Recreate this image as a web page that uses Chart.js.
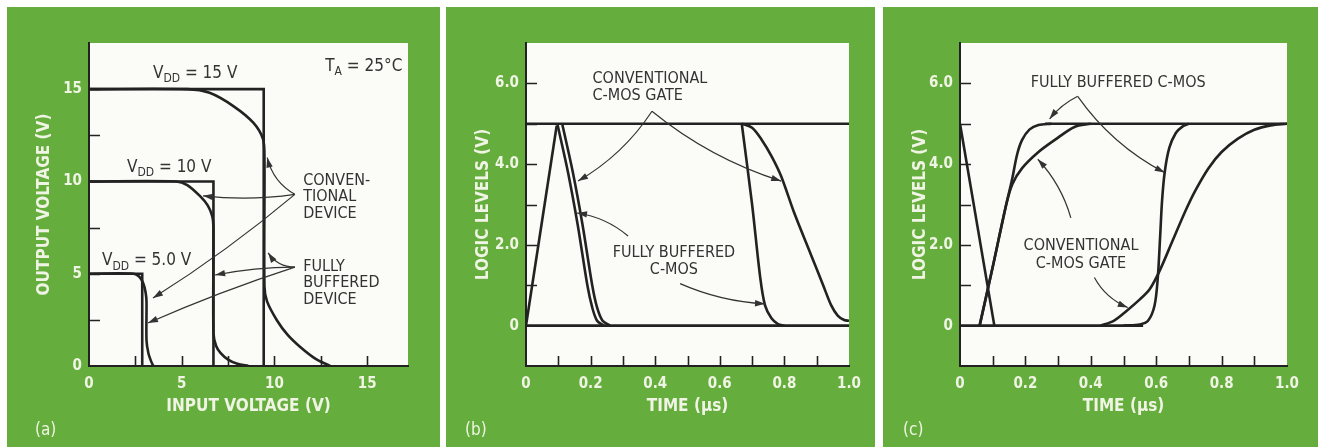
<!DOCTYPE html>
<html>
<head>
<meta charset="utf-8">
<script src="https://cdn.jsdelivr.net/npm/chart.js@4.4.1/dist/chart.umd.min.js"></script>
<style>
  body { margin: 0; background: #fff; width: 1318px; height: 447px; overflow: hidden; position: relative; }
  .panel { position: absolute; top: 7px; height: 440px; background: #65ae3d; }
  .panel canvas { position: absolute; left: 0; top: 0; }
  .tag { position: absolute; top: 412px; color: #f0f4e4; font: 17px "Liberation Sans Narrow", "DejaVu Sans Condensed", "Liberation Sans", sans-serif; }
</style>
</head>
<body>
<div class="panel" style="left:7px;width:433px"><canvas id="chartA" width="433" height="440"></canvas><span class="tag" style="left:28px">(a)</span></div>
<div class="panel" style="left:446px;width:429px"><canvas id="chartB" width="429" height="440"></canvas><span class="tag" style="left:19px">(b)</span></div>
<div class="panel" style="left:883px;width:435px"><canvas id="chartC" width="435" height="440"></canvas><span class="tag" style="left:20px">(c)</span></div>
<script>
const FONT = '"Liberation Sans Narrow", "DejaVu Sans Condensed", "Liberation Sans", sans-serif';
const INK = '#222';
const PALE = '#f0f4e4';

// (a) output vs input voltage, [input V, output V]
const a15Buffered = [[0, 15], [9.42, 15], [9.42, 0]];
const a15Conventional = [[0, 15], [5.3, 15], [6.5, 14.8], [7.8, 14.07], [8.87, 13.17], [9.38, 12.3], [9.46, 11.3], [9.46, 4.3],
  [9.6, 3.5], [10.13, 2.48], [10.7, 1.7], [11.39, 1.03], [12.2, 0.4], [13.0, 0]];
const a10Buffered = [[0, 10], [6.71, 10], [6.71, 0]];
const a10Conventional = [[0, 10], [4.7, 10], [5.3, 9.8], [5.99, 9.2], [6.4, 8.7], [6.65, 8.1], [6.71, 7.5], [6.71, 1.8],
  [6.85, 1.1], [7.1, 0.7], [7.5, 0.35], [8.0, 0.12], [8.6, 0]];
const a5Buffered = [[0, 5], [2.87, 5], [2.87, 0]];
const a5Conventional = [[0, 5], [2.4, 5], [2.7, 4.85], [2.92, 4.5], [3.05, 4.0], [3.1, 3.5], [3.1, 1.4], [3.2, 0.7], [3.35, 0.25], [3.47, 0]];
const aTickLabelsX = [0, 5, 10, 15];
const aTickLabelsY = [0, 5, 10, 15];
const aMarks = [2.5, 5, 7.5, 10, 12.5, 15];

// (b) logic levels vs time, [time us, volts]
const bHigh = [[0, 5], [1, 5]];
const bLow = [[0, 0], [1, 0]];
const bInput = [[0, 0], [0.095, 4.95]];
const bFallA = [[0.097, 5], [0.13, 3.8], [0.16, 2.5], [0.19, 1.0], [0.205, 0.45], [0.22, 0.12], [0.24, 0]];
const bFallB = [[0.112, 5], [0.145, 3.8], [0.175, 2.5], [0.205, 1.0], [0.22, 0.45], [0.237, 0.12], [0.26, 0]];
const bBuffered = [[0.668, 5], [0.70, 3.0], [0.725, 1.2], [0.74, 0.5], [0.76, 0.18], [0.78, 0.04], [0.80, 0]];
const bConventional = [[0.668, 5], [0.70, 4.9], [0.73, 4.6], [0.76, 4.2], [0.79, 3.7], [0.83, 2.8], [0.88, 1.8], [0.92, 1.0],
  [0.945, 0.5], [0.965, 0.25], [0.985, 0.14], [1.0, 0.12]];

// (c) logic levels vs time, [time us, volts]
const cHigh = [[0.26, 5], [1, 5]];
const cLow = [[0, 0], [0.56, 0]];
const cInput = [[0, 5], [0.105, 0]];
const cBufferedRise = [[0.06, 0], [0.10, 1.45], [0.14, 2.95], [0.16, 3.65], [0.175, 4.25], [0.19, 4.6], [0.213, 4.86], [0.24, 4.97], [0.28, 5]];
const cConventionalRise = [[0.06, 0], [0.10, 1.45], [0.14, 2.95], [0.16, 3.5], [0.19, 3.9], [0.24, 4.3], [0.29, 4.6], [0.35, 4.92], [0.40, 5]];
const cBufferedLate = [[0.50, 0], [0.55, 0.03], [0.575, 0.12], [0.595, 0.5], [0.605, 1.2], [0.612, 2.2], [0.618, 3.1], [0.626, 3.8],
  [0.64, 4.4], [0.66, 4.77], [0.68, 4.93], [0.70, 5]];
const cConventionalLate = [[0.43, 0], [0.47, 0.12], [0.51, 0.37], [0.55, 0.65], [0.58, 0.9], [0.61, 1.35], [0.65, 2.1], [0.69, 2.85],
  [0.72, 3.35], [0.76, 3.9], [0.80, 4.3], [0.85, 4.63], [0.90, 4.85], [0.95, 4.96], [1.0, 5]];

const timeLabels = [0, 0.2, 0.4, 0.6, 0.8, 1.0];
const levelLabels = [0, 2, 4, 6];
const timeMarks = [0.1, 0.2, 0.3, 0.4, 0.5, 0.6, 0.7, 0.8, 0.9];
const levelMarks = [1, 2, 3, 4, 5, 6];

function trace(points, tension) {
  return {
    data: points.map(([x, y]) => ({ x, y })),
    showLine: true,
    borderColor: INK,
    borderWidth: 2.6,
    pointRadius: 0,
    tension: tension,
    fill: false
  };
}

// draws "V_{DD}" style text with subscripts, left aligned at (x, y) middle
function richText(ctx, str, x, y, size) {
  const parts = str.split(/_\{([^}]*)\}/);
  let cx = x;
  parts.forEach((p, i) => {
    if (!p) return;
    const sub = i % 2 === 1;
    ctx.font = (sub ? Math.round(size * 0.72) : size) + 'px ' + FONT;
    ctx.fillText(p, cx, sub ? y + size * 0.32 : y);
    cx += ctx.measureText(p).width;
  });
}

function arrow(ctx, x0, y0, x1, y1, bend) {
  const mx = (x0 + x1) / 2, my = (y0 + y1) / 2;
  const dx = x1 - x0, dy = y1 - y0;
  const len = Math.hypot(dx, dy);
  const qx = mx - dy / len * bend, qy = my + dx / len * bend;
  ctx.beginPath();
  ctx.moveTo(x0, y0);
  ctx.quadraticCurveTo(qx, qy, x1, y1);
  ctx.stroke();
  const ang = Math.atan2(y1 - qy, x1 - qx);
  ctx.beginPath();
  ctx.moveTo(x1, y1);
  ctx.lineTo(x1 - 10 * Math.cos(ang) + 3.2 * Math.sin(ang), y1 - 10 * Math.sin(ang) - 3.2 * Math.cos(ang));
  ctx.lineTo(x1 - 10 * Math.cos(ang) - 3.2 * Math.sin(ang), y1 - 10 * Math.sin(ang) + 3.2 * Math.cos(ang));
  ctx.closePath();
  ctx.fill();
}

// white plot field, inward tick marks, callouts
function decor(cfg) {
  return {
    id: 'decor',
    beforeDraw(chart) {
      const { ctx, chartArea: a } = chart;
      ctx.save();
      ctx.fillStyle = '#fbfbf8';
      ctx.fillRect(a.left, a.top, a.right - a.left, a.bottom - a.top);
      ctx.restore();
    },
    afterDraw(chart) {
      const { ctx, chartArea: a, scales: { x, y } } = chart;
      ctx.save();
      ctx.strokeStyle = INK;
      ctx.lineWidth = 1.6;
      ctx.beginPath();
      cfg.xMarks.forEach(v => { const px = Math.round(x.getPixelForValue(v)) + 0.5; ctx.moveTo(px, a.bottom); ctx.lineTo(px, a.bottom - 10); });
      cfg.yMarks.forEach(v => { const py = Math.round(y.getPixelForValue(v)) + 0.5; ctx.moveTo(a.left, py); ctx.lineTo(a.left + 11, py); });
      ctx.stroke();

      ctx.fillStyle = '#333';
      ctx.textBaseline = 'middle';
      cfg.notes.forEach(n => {
        ctx.textAlign = n.align || 'left';
        const px = x.getPixelForValue(n.x), py = y.getPixelForValue(n.y);
        n.lines.forEach((t, i) => richText(ctx, t, px, py + i * (n.gap || 16.5), n.size || 16));
      });

      ctx.strokeStyle = '#333';
      ctx.fillStyle = '#333';
      ctx.lineWidth = 1.2;
      cfg.arrows.forEach(([x0, y0, x1, y1, bend]) => {
        arrow(ctx, x.getPixelForValue(x0), y.getPixelForValue(y0), x.getPixelForValue(x1), y.getPixelForValue(y1), bend);
      });
      ctx.restore();
    }
  };
}

function panelChart(id, cfg) {
  const el = document.getElementById(id);
  const W = el.width;
  const tickFont = { family: FONT, size: 15, weight: 'bold' };
  const titleFont = { family: FONT, size: 17, weight: 'bold' };
  return new Chart(el, {
    type: 'scatter',
    data: { datasets: cfg.series },
    options: {
      responsive: false,
      animation: false,
      events: [],
      layout: { padding: { left: 0, top: 36, right: W - cfg.right, bottom: 0 } },
      plugins: { legend: { display: false }, tooltip: { enabled: false } },
      scales: {
        x: {
          type: 'linear', min: cfg.xMin, max: cfg.xMax,
          afterFit: s => { s.height = 81; },
          afterBuildTicks: s => { s.ticks = cfg.xLabels.map(v => ({ value: v })); },
          grid: { display: false, drawTicks: false },
          border: { display: true, color: INK, width: 2 },
          ticks: { color: PALE, font: tickFont, padding: 9, maxRotation: 0, autoSkip: false, callback: cfg.xFmt },
          title: { display: true, text: cfg.xTitle, color: PALE, font: titleFont, padding: { top: 0, bottom: 30 } }
        },
        y: {
          type: 'linear', min: cfg.yMin, max: cfg.yMax,
          afterFit: s => { s.width = cfg.left; },
          afterBuildTicks: s => { s.ticks = cfg.yLabels.map(v => ({ value: v })); },
          grid: { display: false, drawTicks: false },
          border: { display: true, color: INK, width: 2 },
          ticks: { color: PALE, font: tickFont, padding: 7, autoSkip: false, callback: cfg.yFmt },
          title: { display: true, text: cfg.yTitle, color: PALE, font: titleFont, padding: { top: 27, bottom: 0 } }
        }
      }
    },
    plugins: [decor(cfg)]
  });
}

const oneDecimal = v => (v === 0 ? '0' : v.toFixed(1));

panelChart('chartA', {
  left: 82, right: 401,
  xMin: 0, xMax: 17.2, yMin: 0, yMax: 17.5,
  xLabels: aTickLabelsX, yLabels: aTickLabelsY, xMarks: aMarks, yMarks: aMarks,
  xFmt: v => String(v), yFmt: v => String(v),
  xTitle: 'INPUT VOLTAGE (V)', yTitle: 'OUTPUT VOLTAGE (V)',
  series: [
    trace(a15Buffered, 0), trace(a15Conventional, 0.3),
    trace(a10Buffered, 0), trace(a10Conventional, 0.3),
    trace(a5Buffered, 0), trace(a5Conventional, 0.3)
  ],
  notes: [
    { x: 3.45, y: 15.85, lines: ['V_{DD} = 15 V'], size: 17 },
    { x: 12.74, y: 16.23, lines: ['T_{A} = 25°C'], size: 17 },
    { x: 2.05, y: 10.77, lines: ['V_{DD} = 10 V'], size: 17 },
    { x: 0.70, y: 5.69, lines: ['V_{DD} = 5.0 V'], size: 17 },
    { x: 11.55, y: 10.05, lines: ['CONVEN-', 'TIONAL', 'DEVICE'] },
    { x: 11.55, y: 5.38, lines: ['FULLY', 'BUFFERED', 'DEVICE'] }
  ],
  arrows: [
    [11.1, 9.3, 9.61, 11.29, -10],
    [11.1, 9.3, 6.15, 9.22, -6],
    [11.1, 9.3, 3.45, 3.68, -6],
    [11.1, 5.36, 9.66, 6.13, -8],
    [11.1, 5.36, 6.80, 4.93, 4],
    [11.1, 5.36, 3.18, 2.33, 4]
  ]
});

panelChart('chartB', {
  left: 80, right: 403,
  xMin: 0, xMax: 1, yMin: -1, yMax: 7,
  xLabels: timeLabels, yLabels: levelLabels, xMarks: timeMarks, yMarks: levelMarks,
  xFmt: oneDecimal, yFmt: oneDecimal,
  xTitle: 'TIME (μs)', yTitle: 'LOGIC LEVELS (V)',
  series: [
    trace(bHigh, 0), trace(bLow, 0), trace(bInput, 0),
    trace(bFallA, 0.3), trace(bFallB, 0.3),
    trace(bBuffered, 0.3), trace(bConventional, 0.3)
  ],
  notes: [
    { x: 0.206, y: 6.1, lines: ['CONVENTIONAL', 'C-MOS GATE'] },
    { x: 0.458, y: 1.81, lines: ['FULLY BUFFERED', 'C-MOS'], align: 'center', gap: 17.5 }
  ],
  arrows: [
    [0.39, 5.31, 0.161, 3.58, -12],
    [0.39, 5.31, 0.79, 3.58, 14],
    [0.316, 2.22, 0.158, 2.79, 8],
    [0.477, 1.04, 0.74, 0.54, 8]
  ]
});

panelChart('chartC', {
  left: 77, right: 404,
  xMin: 0, xMax: 1, yMin: -1, yMax: 7,
  xLabels: timeLabels, yLabels: levelLabels, xMarks: timeMarks, yMarks: levelMarks,
  xFmt: oneDecimal, yFmt: oneDecimal,
  xTitle: 'TIME (μs)', yTitle: 'LOGIC LEVELS (V)',
  series: [
    trace(cHigh, 0), trace(cLow, 0), trace(cInput, 0),
    trace(cBufferedRise, 0.3), trace(cConventionalRise, 0.3),
    trace(cBufferedLate, 0.3), trace(cConventionalLate, 0.3)
  ],
  notes: [
    { x: 0.216, y: 6.01, lines: ['FULLY BUFFERED C-MOS'] },
    { x: 0.37, y: 1.98, lines: ['CONVENTIONAL', 'C-MOS GATE'], align: 'center', gap: 18 }
  ],
  arrows: [
    [0.36, 5.68, 0.274, 5.12, 4],
    [0.36, 5.68, 0.626, 3.79, 14],
    [0.339, 2.67, 0.238, 4.12, 8],
    [0.411, 1.19, 0.513, 0.45, 8]
  ]
});
</script>
</body>
</html>
